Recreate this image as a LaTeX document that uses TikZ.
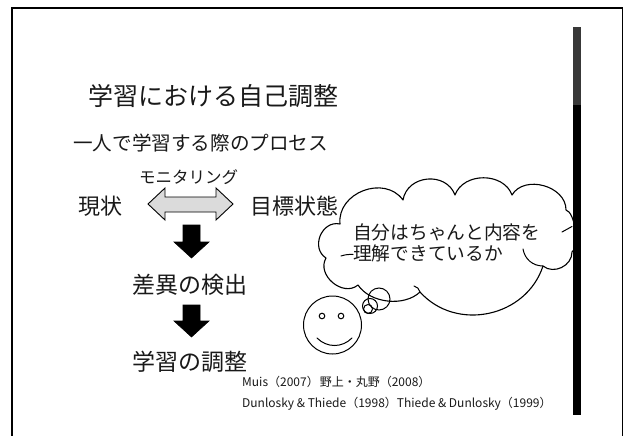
\documentclass[tikz,border=0pt]{standalone}
\usepackage{fontspec}
\setmainfont{Noto Sans CJK JP}
\begin{document}
\begin{tikzpicture}[x=1pt,y=1pt,
  lbl/.style={anchor=west,inner sep=0pt,text=black!90,font=\fontsize{#1}{#1}\selectfont},
  blockarrow/.style={fill=black,draw=black,line width=0.6pt,line join=miter},
  outline/.style={draw=black,line width=1.1pt},
  thin/.style={draw=black,line width=1pt,line cap=round}]
\useasboundingbox (0,0) rectangle (629,-436);
\fill[white] (0,0) rectangle (629,-436);

% slide frame
\draw[line width=1.4pt] (12,-440) -- (12,-8) -- (622.5,-8) -- (622.5,-440);

% headings
\node[lbl=25] (title) at (88,-96) {学習における自己調整};
\node[lbl=19.6] (sub) at (73,-143) {一人で学習する際のプロセス};

% monitoring row
\node[lbl=16.5] (mon) at (139,-177) {モニタリング};
\node[lbl=22] (now) at (78,-206) {現状};
\node[lbl=22] (goal) at (250,-206) {目標状態};
\draw[fill=black!14,draw=black,line width=0.9pt,line join=miter]
  (148,-204) -- (165,-188) -- (165,-197) -- (216,-197) -- (216,-188) -- (233,-204)
  -- (216,-220) -- (216,-212) -- (165,-212) -- (165,-220) -- cycle;

% process steps
\draw[blockarrow] (183,-225) -- (200,-225) -- (200,-242) -- (209,-242) -- (191.5,-258)
  -- (174,-242) -- (183,-242) -- cycle;
\node[lbl=23] (diff) at (132,-285) {差異の検出};
\draw[blockarrow] (183,-305) -- (200,-305) -- (200,-321) -- (209,-321) -- (191.5,-337)
  -- (174,-321) -- (183,-321) -- cycle;
\node[lbl=23] (adj) at (132,-362) {学習の調整};

% thought cloud
\coordinate (cA) at (326,-258);
\coordinate (cB) at (340,-224);
\coordinate (cC) at (403,-200);
\coordinate (cD) at (455,-195);
\coordinate (cE) at (512,-195);
\coordinate (cF) at (566,-210);
\coordinate (cG) at (572,-252);
\coordinate (cH) at (543,-266);
\coordinate (cI) at (420,-292);
\coordinate (cJ) at (358,-285);
\draw[outline,fill=white,line join=round]
  (cA) to[bend left=80,looseness=1.3] (cB)
  to[bend left=75,looseness=1.2] (cC)
  to[bend left=75,looseness=1.25] (cD)
  to[bend left=70,looseness=1.1] (cE)
  to[bend left=75,looseness=1.1] (cF)
  to[bend left=70,looseness=0.55] (cG)
  to[bend left=65,looseness=1.1] (cH)
  to[bend left=60,looseness=1.1] (cI)
  to[bend left=50,looseness=0.9] (cJ)
  to[bend left=80,looseness=1.2] cycle;
% inner creases of the cloud
\draw[thin] (341,-256) to[bend left=10] (353,-254.5);
\draw[thin] (562,-232) -- (572,-226.5);
\draw[thin] (cH) to[bend left=40] (523,-249);
\draw[thin] (cI) to[bend right=30] (414,-286);
\node[lbl=18.7] (q1) at (353,-232) {自分はちゃんと内容を};
\node[lbl=18.7] (q2) at (353,-253.5) {理解できているか};

% bubbles leading to the face
\draw[thin] (379,-299) circle (11);
\draw[thin] (370,-306) circle (7.5);
\draw[thin] (368,-309) circle (4.5);

% smiling face
\draw[thin] (332.5,-325) circle (29);
\draw[thin] (322,-316) circle (2.8);
\draw[thin] (341,-316) circle (2.8);
\draw[thin] (317,-338) .. controls (327,-348) and (342,-348) .. (352,-338);

% references
\node[lbl=12] (ref1) at (242,-382) {Muis（2007）\hspace{1pt}野上・丸野（2008）};
\node[lbl=12] (ref2) at (242,-404) {Dunlosky \& Thiede（1998）Thiede \& Dunlosky（1999）};

% scroll bar
\fill[black] (573,-105) rectangle (581,-415);
\fill[black!78] (573,-27) rectangle (581,-105);
\end{tikzpicture}
\end{document}
